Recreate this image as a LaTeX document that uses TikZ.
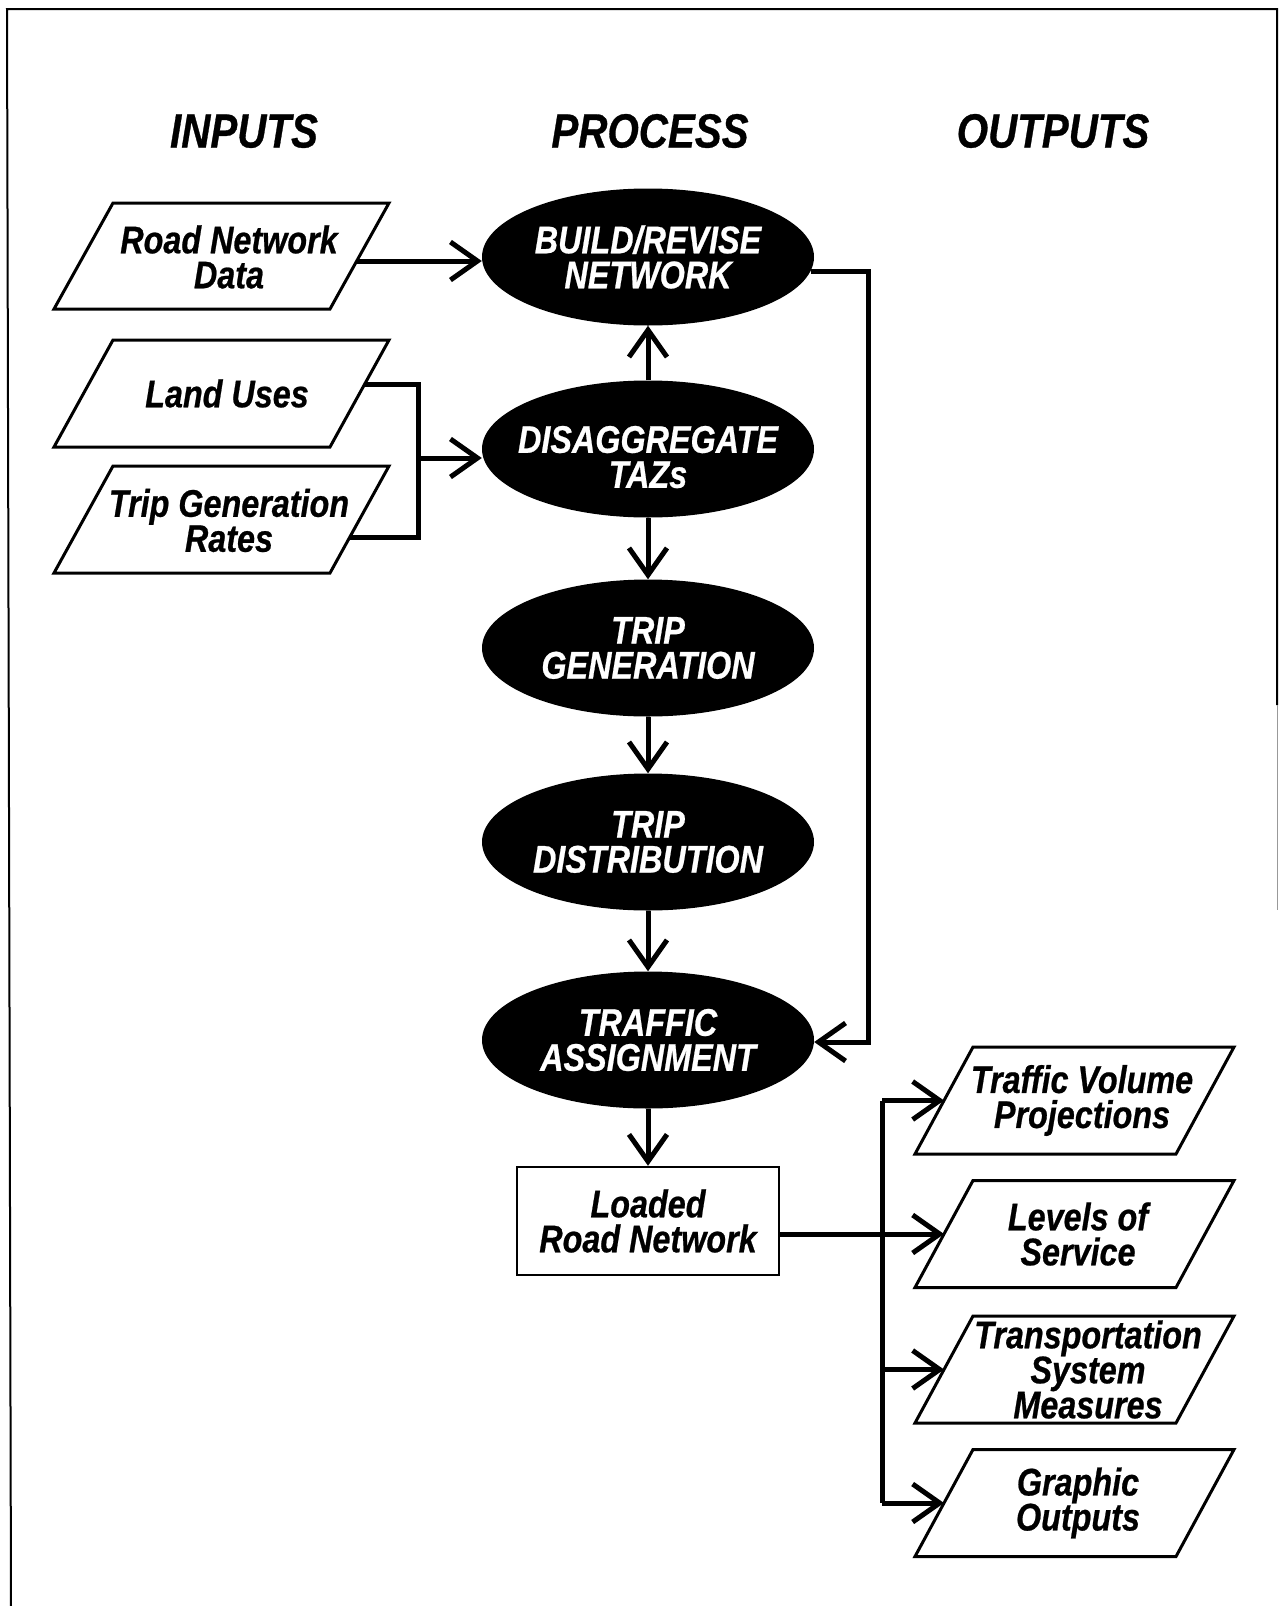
\documentclass[tikz,border=0pt]{standalone}
\usepackage{fontspec}
\usetikzlibrary{arrows.meta,shapes.geometric,calc}
\newfontface\dfont{Liberation Sans Bold Italic}[FakeStretch=0.84,FakeBold=0.6]
\begin{document}
\begin{tikzpicture}[x=1pt,y=-1pt,
  txt/.style={font=\dfont\fontsize{38.5}{35}\selectfont, align=center},
  hdr/.style={font=\dfont\fontsize{48}{50}\selectfont},
  proc/.style={txt, ellipse, fill=black, text=white, minimum width=332pt, minimum height=137pt, inner xsep=-20pt, inner ysep=0pt},
  ptext/.style={txt, inner sep=0pt},
  pg/.style={line width=3pt, line join=miter},
  resbox/.style={txt, rectangle, draw, line width=2.5pt, minimum width=262pt, minimum height=108pt, inner sep=0pt},
  conn/.style={line width=5pt, line join=miter},
  arr/.style={conn, -{Straight Barb[length=27pt,width=38pt,line width=5pt]}},
  frame/.style={line width=2pt}
]
\useasboundingbox (0,0) rectangle (1280,1606);
\draw[frame] (11,1606) -- (7,9) -- (1277,9) -- (1277,705);
\draw[line width=1pt, black!40] (1277,705) -- (1277,910);

\node[hdr] (hin) at (244,131) {INPUTS};
\node[hdr] (hpr) at (650,131) {PROCESS};
\node[hdr] (hout) at (1053,131) {OUTPUTS};

% input parallelograms (text node + outline)
\node[ptext] (rnd) at (229,257) {Road Network\\Data};
\node[ptext] (lu) at (227,393.5) {Land Uses};
\node[ptext] (tgr) at (229,520.5) {Trip Generation\\Rates};
\draw[pg] ($(rnd)+(-116,-54)$) -- ++(276,0) -- ++(-59,106) -- ++(-276,0) -- cycle;
\draw[pg] ($(lu)+(-114,-53.5)$) -- ++(276,0) -- ++(-59,107) -- ++(-276,0) -- cycle;
\draw[pg] ($(tgr)+(-116,-54.5)$) -- ++(276,0) -- ++(-59,107) -- ++(-276,0) -- cycle;

\node[proc] (build) at (648,257) {BUILD/REVISE\\NETWORK};
\node[proc] (dis) at (648,449) {\rule{0pt}{43pt}DISAGGREGATE\\TAZs};
\node[proc] (tgen) at (648,648) {TRIP\\GENERATION};
\node[proc] (tdist) at (648,842) {TRIP\\DISTRIBUTION};
\node[proc] (traffic) at (648,1040) {TRAFFIC\\ASSIGNMENT};

\node[resbox] (loaded) at (648,1221) {Loaded\\Road Network};

% output parallelograms (text node + outline)
\node[ptext] (tvp) at (1082,1100.5) {Traffic Volume\\Projections};
\node[ptext] (los) at (1078,1234) {Levels of\\Service};
\node[ptext] (tsm) at (1088,1369.5) {\fontsize{38.5}{32}\selectfont Transportation\\System\\Measures};
\node[ptext] (go) at (1078,1503) {Graphic\\Outputs};
\draw[pg] ($(tvp)+(-109,-53.5)$) -- ++(261,0) -- ++(-58,107) -- ++(-261,0) -- cycle;
\draw[pg] ($(los)+(-105,-53.5)$) -- ++(261,0) -- ++(-58,107) -- ++(-261,0) -- cycle;
\draw[pg] ($(tsm)+(-115,-53.5)$) -- ++(261,0) -- ++(-58,107) -- ++(-261,0) -- cycle;
\draw[pg] ($(go)+(-105,-53.5)$) -- ++(261,0) -- ++(-58,107) -- ++(-261,0) -- cycle;

% connectors
\coordinate (rs) at ($(rnd)+(128,4)$);
\draw[arr] (rs) -- (rs -| build.west);
\coordinate (ls) at ($(lu)+(138,-9.5)$);
\coordinate (ts) at ($(tgr)+(121,16.5)$);
\coordinate (jl) at (418,458);
\draw[conn] (ls) -| (jl);
\draw[conn] (ts) -| (jl);
\draw[arr] (jl) -- (jl -| dis.west);

\draw[arr] (dis.north) -- (build.south);
\draw[arr] (dis.south) -- (tgen.north);
\draw[arr] (tgen.south) -- (tdist.north);
\draw[arr] (tdist.south) -- (traffic.north);
\coordinate (rx) at (868,1042);
\draw[arr] (build.-5) -| (rx) -- (rx -| traffic.east);
\draw[arr] (traffic.south) -- (loaded.north);

\coordinate (jo) at (882,0);
\coordinate (tvpin) at ($(tvp)+(-138,0)$);
\coordinate (losin) at ($(los)+(-134,0)$);
\coordinate (tsmin) at ($(tsm)+(-144,0)$);
\coordinate (goin) at ($(go)+(-134,0)$);
\draw[conn] (jo |- tvpin) -- (jo |- goin);
\draw[arr] (jo |- tvpin) -- (tvpin);
\draw[arr] (loaded.east |- losin) -- (losin);
\draw[arr] (jo |- tsmin) -- (tsmin);
\draw[arr] (jo |- goin) -- (goin);
\end{tikzpicture}
\end{document}
